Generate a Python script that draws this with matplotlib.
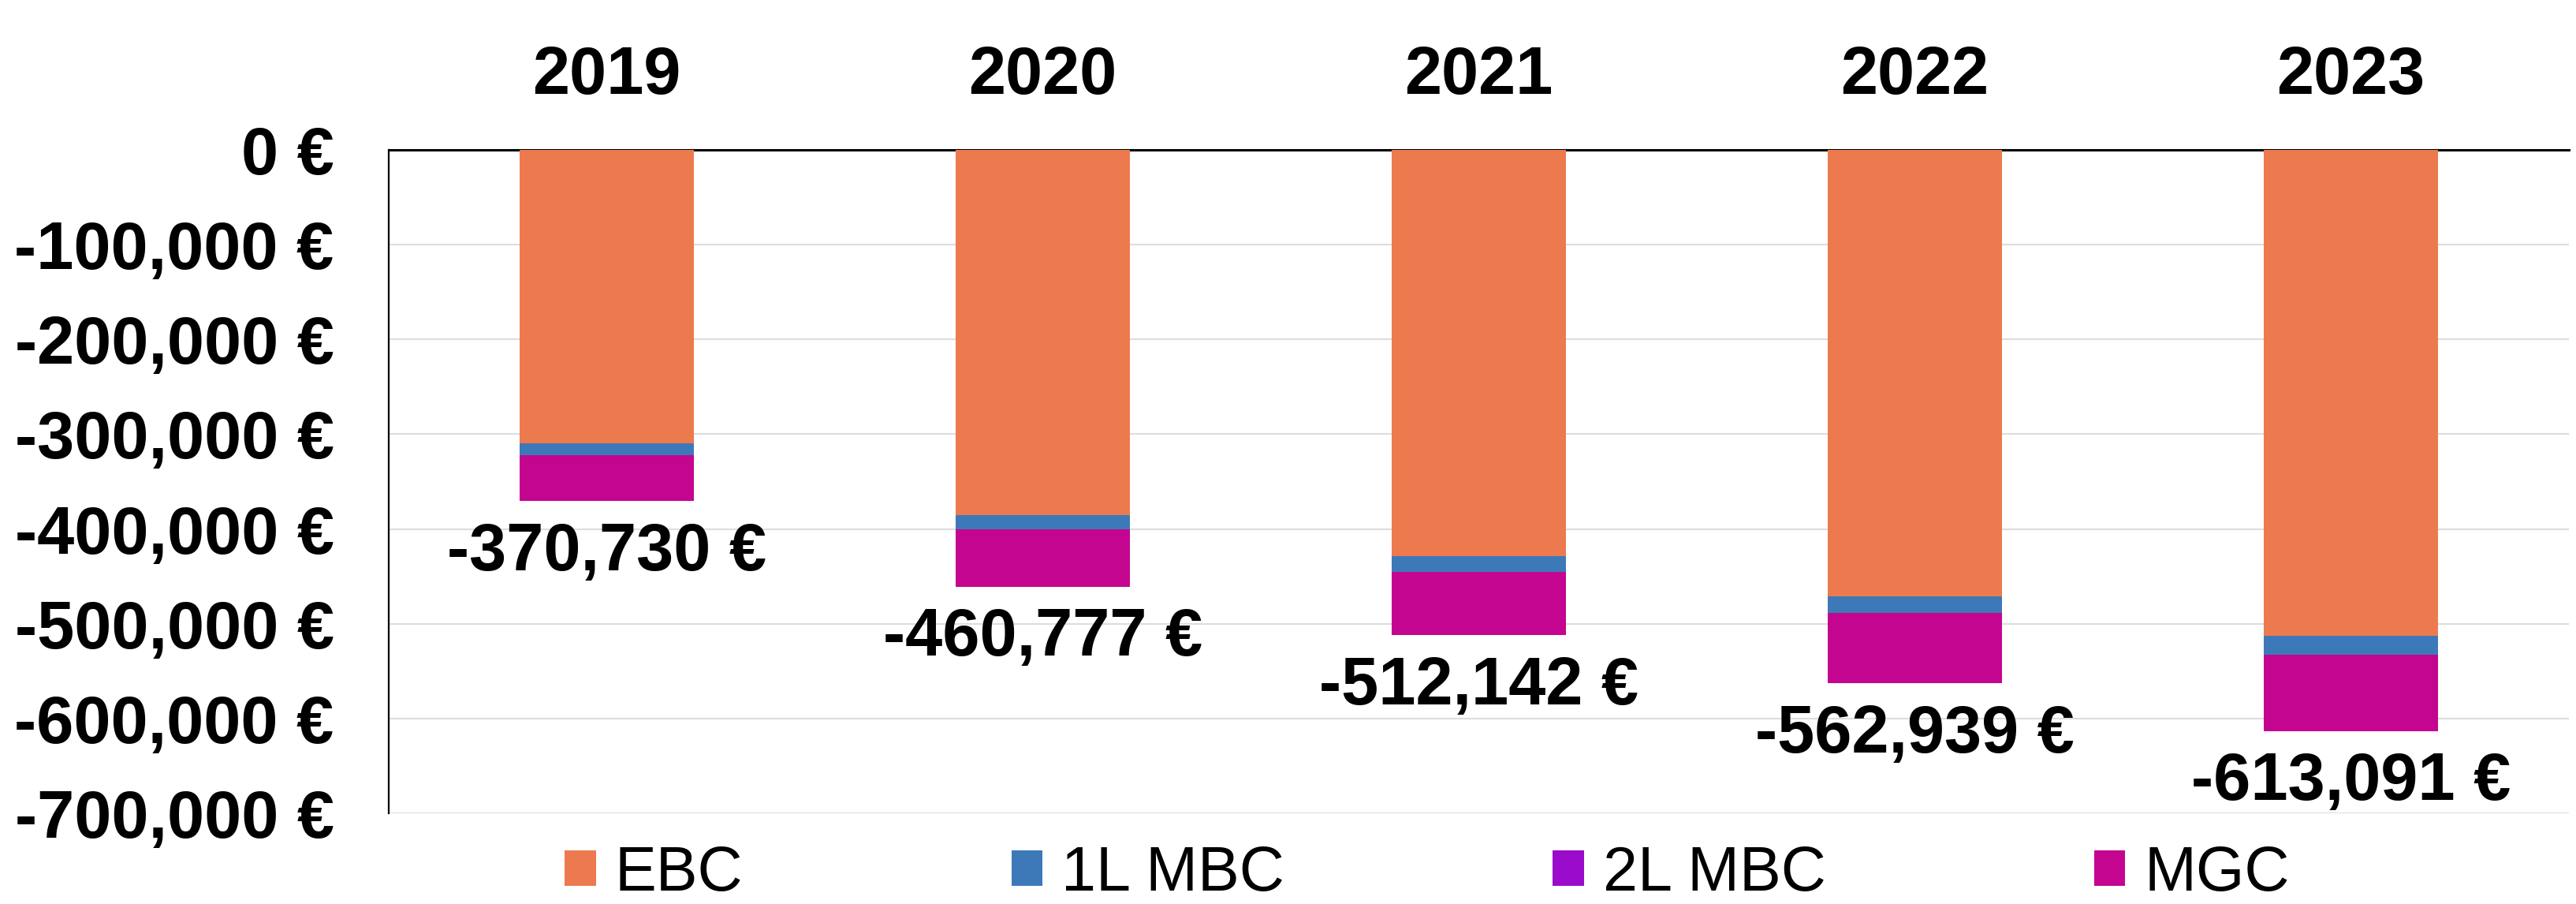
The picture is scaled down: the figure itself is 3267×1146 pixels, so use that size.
import numpy as np
import matplotlib.pyplot as plt

plt.rcParams['font.family'] = ['Liberation Sans', 'DejaVu Sans']

years = ['2019', '2020', '2021', '2022', '2023']
ebc = [-310000, -385600, -428800, -471000, -513000]
mbc_1l = [-11900, -14800, -16100, -18000, -19400]
mbc_2l = [0, 0, 0, 0, 0]
mgc = [-48830, -60377, -67242, -73939, -80691]

series = [
    ('EBC', ebc, '#ED7A4E'),
    ('1L MBC', mbc_1l, '#3D79B8'),
    ('2L MBC', mbc_2l, '#9A0BCB'),
    ('MGC', mgc, '#C4058F'),
]

fig = plt.figure(figsize=(32.67, 11.46), dpi=100)
ax = fig.add_axes([493 / 3267, 1 - 1031 / 1146, 2765 / 3267, 841 / 1146])

x = np.arange(len(years))
bottom = np.zeros(len(years))
for name, vals, col in series:
    ax.bar(x, vals, 0.4, bottom=bottom, color=col, label=name, zorder=3)
    bottom += np.array(vals)

# totals under each bar
for xi, tot in zip(x, bottom):
    ax.annotate(f'{int(tot):,} €', (xi, tot), xytext=(0, -63), textcoords='offset points',
                ha='center', va='baseline', fontsize=61, fontweight='bold')

ax.set_xlim(-0.5, len(years) - 0.5)
ax.set_ylim(-700000, 0)
ax.set_yticks(np.arange(-700000, 1, 100000))
ax.set_yticklabels([f'{int(v):,} €' for v in ax.get_yticks()], fontsize=61, fontweight='bold')

ax.xaxis.tick_top()
ax.set_xticks(x)
ax.set_xticklabels(years, fontsize=61, fontweight='bold')
ax.tick_params(axis='x', length=0, pad=38)
ax.tick_params(axis='y', length=0, pad=50)

ax.grid(axis='y', color='#DDDDDD', linewidth=1.5, zorder=0)
ax.spines['right'].set_visible(False)
ax.spines['bottom'].set_visible(False)
ax.spines['top'].set_linewidth(2.2)
ax.spines['left'].set_linewidth(1.6)

fig.legend(loc='center', bbox_to_anchor=(1810 / 3267, 1 - 1108 / 1146), ncol=4, frameon=False,
           fontsize=57, handlelength=0.5, handleheight=0.5, handletextpad=0.3, columnspacing=4.3)

fig.savefig('out.png', dpi=100)
